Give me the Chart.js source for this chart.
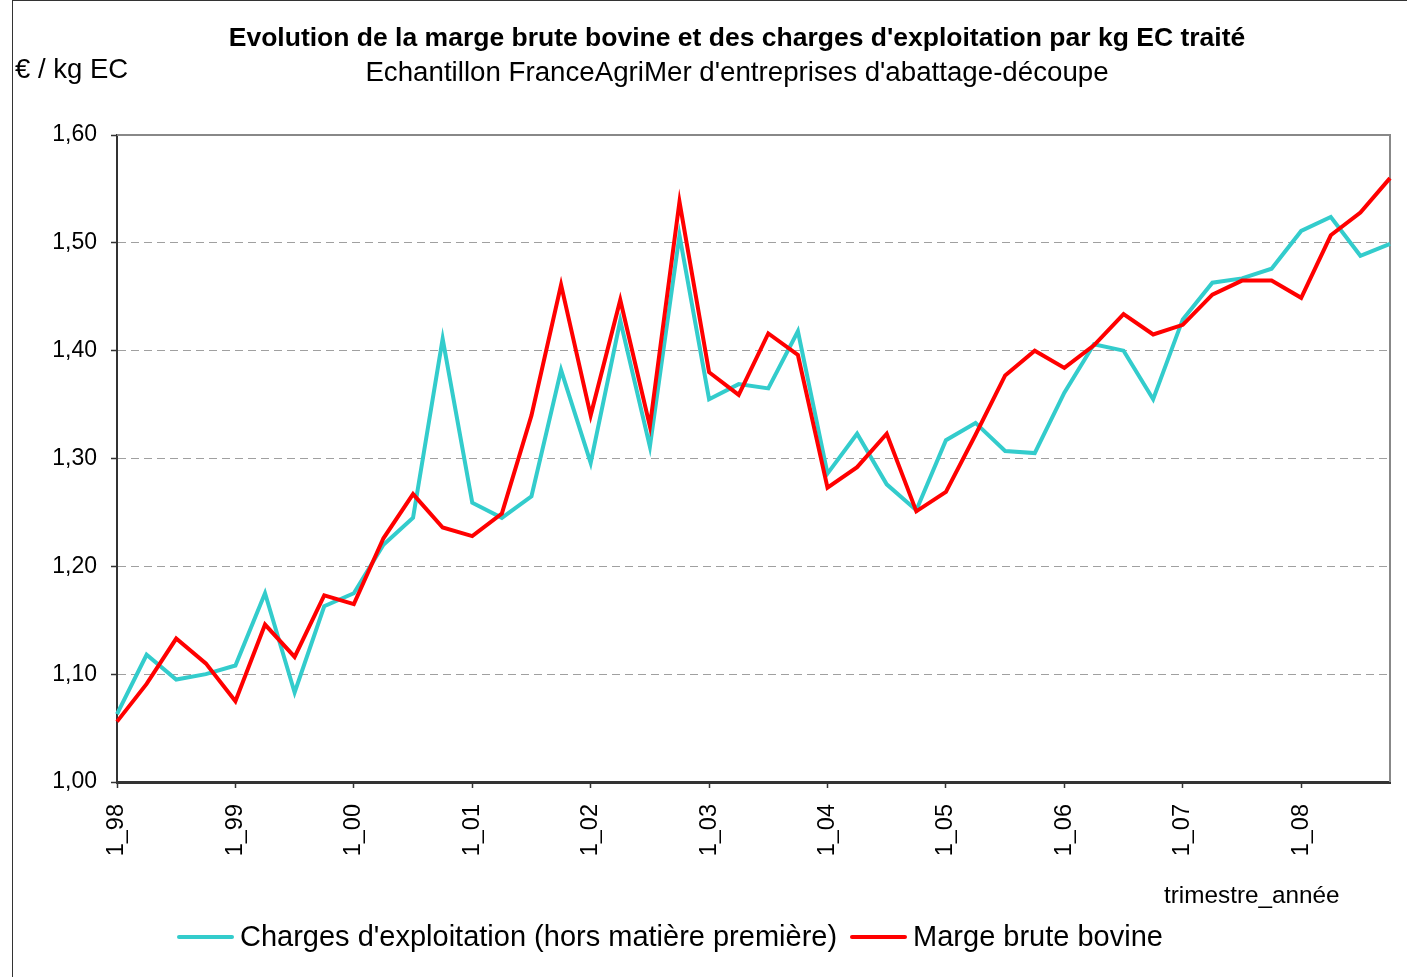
<!DOCTYPE html>
<html>
<head>
<meta charset="utf-8">
<script src="https://cdn.jsdelivr.net/npm/chart.js"></script>
<style>
    body { margin: 0; background: #fff; font-family: "Liberation Sans", Arial, sans-serif; }
    #wrap { position: relative; width: 1407px; height: 977px; overflow: hidden; background: #fff; }
    #frame { position: absolute; left: 12px; top: 0; width: 1420px; height: 1000px; border: 1px solid #333; box-sizing: border-box; }
    #chart { position: absolute; left: 0; top: 0; }
    .txt { position: absolute; white-space: nowrap; color: #000; }
    #title { left: 0; width: 1474px; text-align: center; top: 24px; font-size: 26.5px; line-height: 26px; font-weight: bold; }
    #subtitle { left: 0; width: 1474px; text-align: center; top: 58px; font-size: 27.7px; line-height: 27px; }
    #unit { left: 15px; top: 55px; font-size: 27.5px; line-height: 27px; }
    #xTitle { left: 1164px; top: 883px; font-size: 24.3px; line-height: 24px; }
    #legend { position: absolute; left: 177px; top: 922px; display: flex; align-items: center; font-size: 29px; line-height: 29px; }
    .legend-item { display: flex; align-items: center; margin-right: 13px; }
    .legend-line { width: 57px; height: 4px; margin-right: 6px; border-radius: 2px; }
</style>
</head>
<body>
<div id="wrap">
    <div id="frame"></div>
    <canvas id="chart" width="1407" height="977"></canvas>
    <div class="txt" id="title">Evolution de la marge brute bovine et des charges d'exploitation par kg EC traité</div>
    <div class="txt" id="subtitle">Echantillon FranceAgriMer d'entreprises d'abattage-découpe</div>
    <div class="txt" id="unit">€ / kg EC</div>
    <div class="txt" id="xTitle">trimestre_année</div>
    <div id="legend"></div>
</div>
<script>
// --- DONNÉES ---
const quarters = [
    "1_98", "2_98", "3_98", "4_98", "1_99", "2_99", "3_99", "4_99",
    "1_00", "2_00", "3_00", "4_00", "1_01", "2_01", "3_01", "4_01",
    "1_02", "2_02", "3_02", "4_02", "1_03", "2_03", "3_03", "4_03",
    "1_04", "2_04", "3_04", "4_04", "1_05", "2_05", "3_05", "4_05",
    "1_06", "2_06", "3_06", "4_06", "1_07", "2_07", "3_07", "4_07",
    "1_08", "2_08", "3_08", "4_08"
];

const charges = [
    1.063, 1.118, 1.095, 1.100, 1.108, 1.175, 1.083, 1.163,
    1.175, 1.220, 1.245, 1.411, 1.259, 1.245, 1.265, 1.382,
    1.296, 1.428, 1.311, 1.507, 1.355, 1.369, 1.365, 1.418,
    1.286, 1.323, 1.276, 1.252, 1.317, 1.333, 1.307, 1.305,
    1.361, 1.406, 1.400, 1.355, 1.429, 1.463, 1.467, 1.476,
    1.511, 1.524, 1.488, 1.499
];

const marge = [
    1.056, 1.091, 1.133, 1.110, 1.075, 1.146, 1.116, 1.173,
    1.165, 1.226, 1.267, 1.236, 1.228, 1.249, 1.340, 1.461,
    1.340, 1.447, 1.330, 1.538, 1.380, 1.359, 1.416, 1.396,
    1.273, 1.292, 1.323, 1.251, 1.269, 1.322, 1.377, 1.400,
    1.384, 1.405, 1.434, 1.415, 1.424, 1.452, 1.465, 1.465,
    1.449, 1.507, 1.528, 1.560
];

const seriesNames = ["Charges d'exploitation (hors matière première)", "Marge brute bovine"];
const seriesColors = ['#33CCCC', '#FF0000'];

// cadre de la zone de tracé (haut + droite en gris)
const plotFrame = {
    id: 'plotFrame',
    beforeDatasetsDraw(chart) {
        const { ctx, chartArea: a } = chart;
        ctx.save();
        ctx.strokeStyle = '#888';
        ctx.lineWidth = 2;
        ctx.beginPath();
        ctx.moveTo(a.left, a.top);
        ctx.lineTo(a.right, a.top);
        ctx.lineTo(a.right, a.bottom);
        ctx.stroke();
        ctx.restore();
    }
};

// --- GRAPHIQUE ---
const ctx = document.getElementById('chart').getContext('2d');
const myChart = new Chart(ctx, {
    type: 'line',
    data: {
        labels: quarters,
        datasets: [
            { label: seriesNames[0], data: charges, borderColor: seriesColors[0], backgroundColor: seriesColors[0], borderWidth: 4, pointRadius: 0, tension: 0, order: 1 },
            { label: seriesNames[1], data: marge, borderColor: seriesColors[1], backgroundColor: seriesColors[1], borderWidth: 4, pointRadius: 0, tension: 0, order: 0 }
        ]
    },
    options: {
        responsive: false,
        animation: false,
        devicePixelRatio: 1,
        layout: { padding: { top: 135, right: 17, bottom: 95, left: 0 } },
        plugins: {
            legend: { display: false },
            title: { display: false },
            tooltip: { enabled: false }
        },
        scales: {
            x: {
                offset: false,
                // hauteur fixe, sinon les étiquettes sont coupées
                afterFit: (s) => { s.height = 100; s.paddingLeft = 0; s.paddingRight = 0; },
                grid: {
                    drawOnChartArea: false,
                    tickLength: 6,
                    tickWidth: 1.5,
                    tickColor: (c) => (c.index % 4 === 0 ? '#333' : 'rgba(0,0,0,0)')
                },
                border: { color: '#333', width: 3 },
                ticks: {
                    autoSkip: false,
                    minRotation: 90,
                    maxRotation: 90,
                    padding: 16,
                    color: '#000',
                    font: { family: '"Liberation Sans", Arial, sans-serif', size: 23.5 },
                    callback: function (val, i) { return i % 4 === 0 ? this.getLabelForValue(val) : ''; }
                }
            },
            y: {
                min: 1.0,
                max: 1.6,
                afterFit: (s) => { s.width = 117; s.paddingTop = 0; s.paddingBottom = 0; },
                grid: {
                    color: (c) => {
                        const v = Math.round(c.tick.value * 100);
                        return (v === 100 || v === 160) ? 'rgba(0,0,0,0)' : '#a0a0a0';
                    },
                    lineWidth: 1,
                    tickLength: 6,
                    tickColor: '#333',
                    tickWidth: 1.5
                },
                border: { color: '#333', width: 2, dash: [8, 5] },
                ticks: {
                    stepSize: 0.1,
                    padding: 14,
                    color: '#000',
                    font: { family: '"Liberation Sans", Arial, sans-serif', size: 23 },
                    callback: (v) => v.toFixed(2).replace('.', ',')
                }
            }
        }
    },
    plugins: [plotFrame]
});

// Légende HTML
document.getElementById('legend').innerHTML = myChart.data.datasets.map(ds => `
    <div class="legend-item">
        <span class="legend-line" style="background:${ds.borderColor}"></span>
        <span>${ds.label}</span>
    </div>`).join('');
</script>
</body>
</html>
